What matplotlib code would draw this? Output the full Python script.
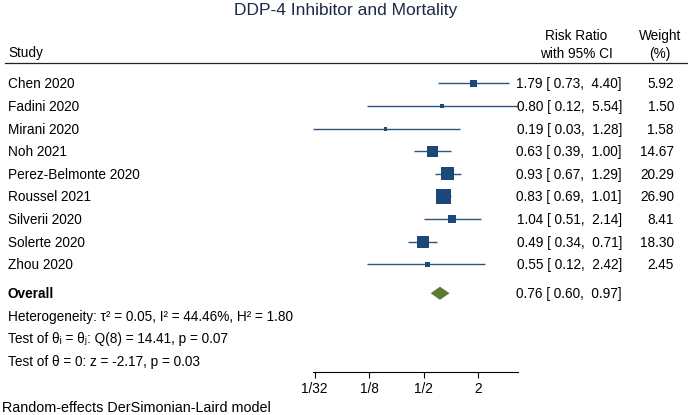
import numpy as np
import matplotlib
matplotlib.use("Agg")
import matplotlib.pyplot as plt
from matplotlib import transforms

plt.rcParams['font.family'] = ['Liberation Sans', 'DejaVu Sans']

studies = ['Chen 2020', 'Fadini 2020', 'Mirani 2020', 'Noh 2021', 'Perez-Belmonte 2020',
           'Roussel 2021', 'Silverii 2020', 'Solerte 2020', 'Zhou 2020']
rr = [1.79, 0.80, 0.19, 0.63, 0.93, 0.83, 1.04, 0.49, 0.55]
lo = [0.73, 0.12, 0.03, 0.39, 0.67, 0.69, 0.51, 0.34, 0.12]
hi = [4.40, 5.54, 1.28, 1.00, 1.29, 1.01, 2.14, 0.71, 2.42]
weight = [5.92, 1.50, 1.58, 14.67, 20.29, 26.90, 8.41, 18.30, 2.45]

overall = (0.76, 0.60, 0.97)
stats_lines = ['Heterogeneity: \u03c4\u00b2 = 0.05, I\u00b2 = 44.46%, H\u00b2 = 1.80',
               'Test of \u03b8\u1d62 = \u03b8\u2c7c: Q(8) = 14.41, p = 0.07',
               'Test of \u03b8 = 0: z = -2.17, p = 0.03']
tick_vals = [1/32, 1/8, 1/2, 2]
tick_labels = ['1/32', '1/8', '1/2', '2']

W, H = 688, 415
fig = plt.figure(figsize=(W/100, H/100), dpi=100)

# forest panel, placed in pixel terms
x0, x1 = 313, 518
y_top, y_bot = 63, 372
ax = fig.add_axes([x0/W, 1 - y_bot/H, (x1-x0)/W, (y_bot-y_top)/H])
ax.set_xscale('log', base=2)
ax.set_xlim(min(lo), max(hi))
row0, step = 83.5, 22.6
ax.set_ylim((y_bot-row0)/step, (y_top-row0)/step)

for s in ['top', 'right', 'left']:
    ax.spines[s].set_visible(False)
ax.spines['bottom'].set_linewidth(0.8)
ax.set_yticks([])
ax.set_xticks(tick_vals)
ax.set_xticklabels(tick_labels, fontsize=9.8)
ax.minorticks_off()
ax.tick_params(axis='x', length=4, width=0.8, pad=3)

navy = '#1b4878'
rows = np.arange(len(studies))
ax.hlines(rows, lo, hi, color='#2f5479', lw=1.0, clip_on=False)
ax.scatter(rr, rows, marker='s', s=np.array(weight)*4.3, color=navy,
           linewidths=0, zorder=3, clip_on=False)

r_over = len(studies) + 0.28
d_h = 0.29
ax.fill([overall[1], overall[0], overall[2], overall[0]],
        [r_over, r_over - d_h, r_over, r_over + d_h],
        color='#5b7a36', lw=0, clip_on=False)

# text columns (baseline placed so caps are centred on the row)
tr = transforms.blended_transform_factory(fig.transFigure, ax.transData)
fs = 9.8
cap = 4.9  # half cap height, px
off = cap / step


def row_text(x, r, s, ha='left', **kw):
    ax.text(x/W, r + off, s, transform=tr, ha=ha, va='baseline',
            fontsize=fs, **kw)


for i, name in enumerate(studies):
    row_text(8, i, name)
    row_text(622, i, f"{rr[i]:.2f} [{lo[i]:5.2f}, {hi[i]:5.2f}]", ha='right')
    row_text(674, i, f"{weight[i]:.2f}", ha='right')

row_text(8, r_over, 'Overall', fontweight='bold')
row_text(622, r_over, f"{overall[0]:.2f} [{overall[1]:5.2f}, {overall[2]:5.2f}]",
         ha='right')
for k, line in enumerate(stats_lines):
    row_text(8, r_over + 1 + k, line)


def head_text(x, y, s, ha='center', size=fs, **kw):
    fig.text(x/W, 1 - (y + size/9.8*cap)/H, s, ha=ha, va='baseline',
             fontsize=size, **kw)


head_text(346, 9.2, 'DDP-4 Inhibitor and Mortality', size=12.5, color='#1c2b45')
head_text(8, 52, 'Study', ha='left')
head_text(576, 35, 'Risk Ratio')
head_text(576, 53, 'with 95% CI')
head_text(660, 35, 'Weight')
head_text(660, 53, '(%)')
fig.add_artist(plt.Line2D([5/W, 1], [1 - 63/H, 1 - 63/H], color='#222222',
                          lw=0.9, transform=fig.transFigure))

head_text(2, 407, 'Random-effects DerSimonian-Laird model', ha='left', size=10.4)

fig.savefig('out.png', dpi=100)
